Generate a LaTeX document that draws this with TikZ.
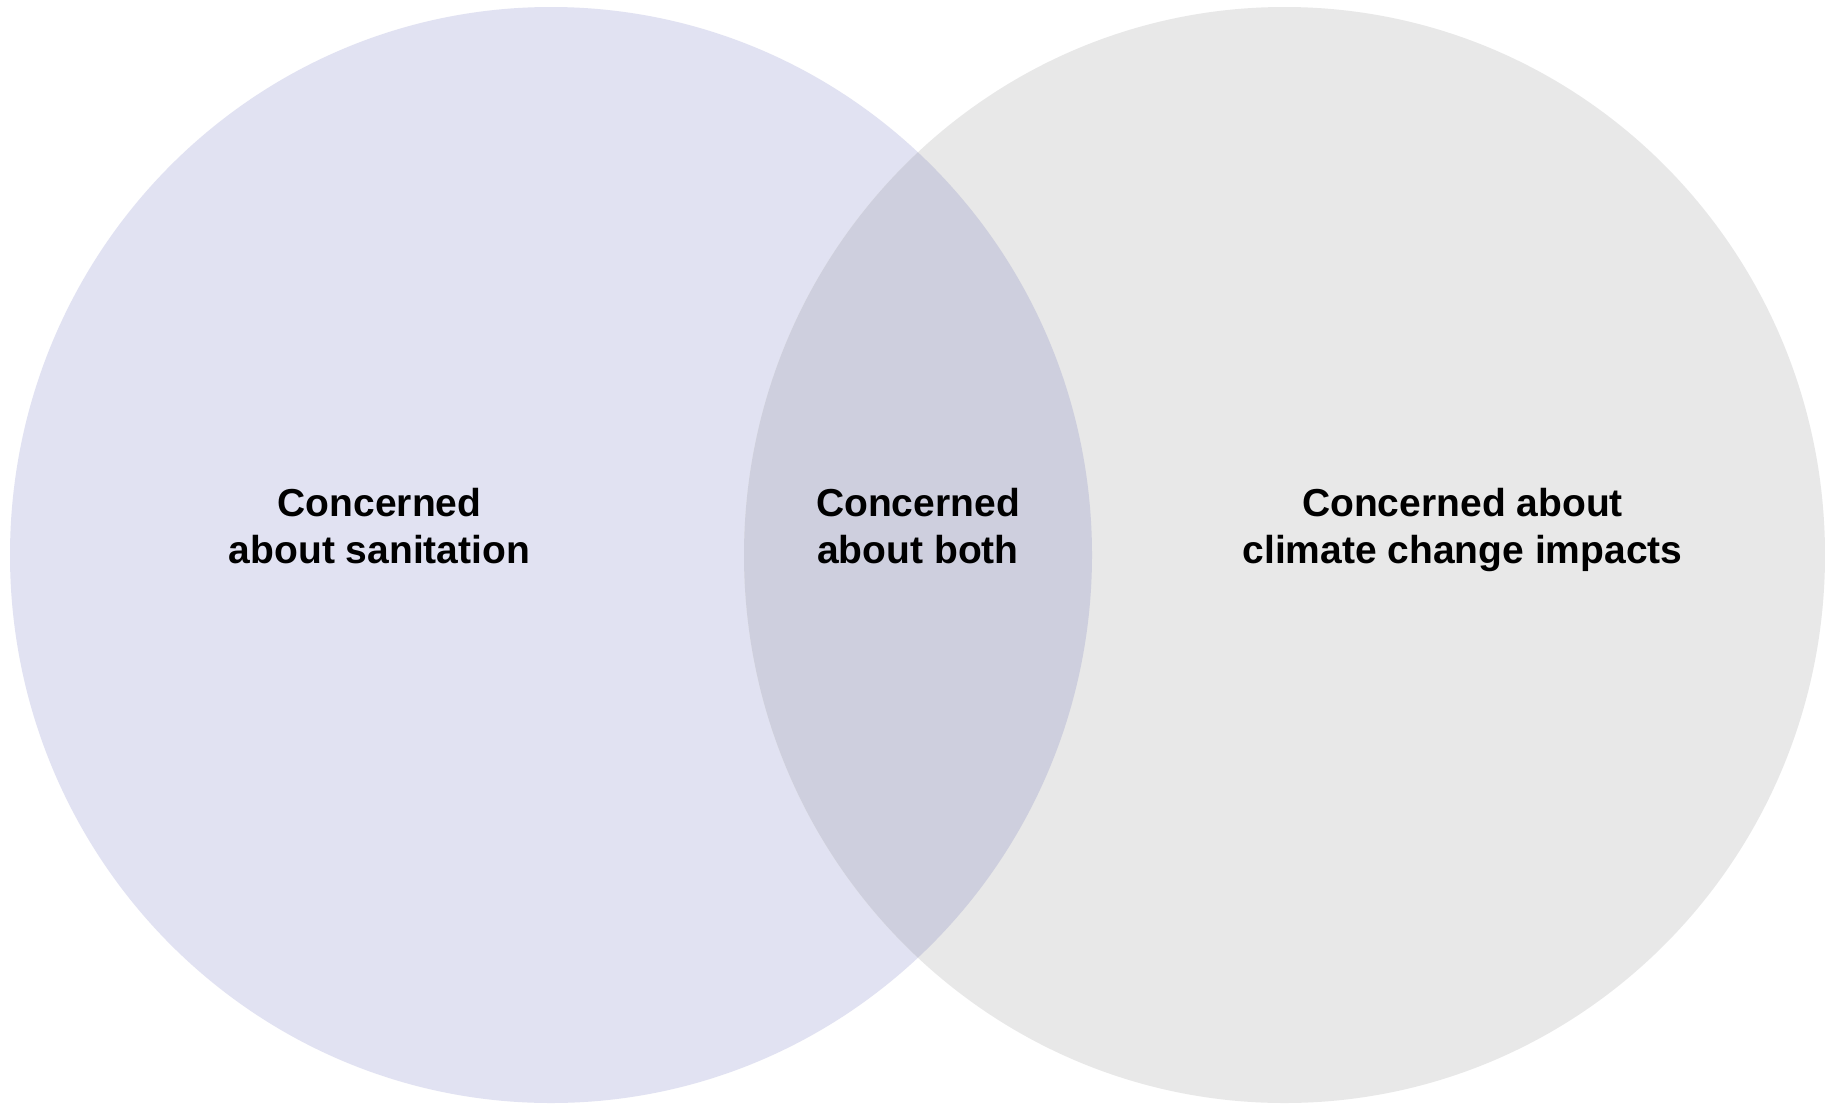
\documentclass[tikz,border=0pt]{standalone}
\usepackage{fontspec}
\setmainfont{Liberation Sans}
\definecolor{leftc}{HTML}{E1E2F2}
\definecolor{rightc}{HTML}{E8E8E8}
\definecolor{midc}{HTML}{CECFDE}
\tikzset{
  lbl/.style={align=center, inner sep=0pt, text depth=0pt, text=black,
    font=\fontsize{39pt}{47pt}\selectfont\bfseries}
}
\begin{document}
\begin{tikzpicture}[x=1pt,y=-1pt]
\useasboundingbox[fill=white] (0,0) rectangle (1825,1103);
\fill[leftc] (551,555) ellipse [x radius=541pt, y radius=548pt];
\fill[rightc] (1284.5,555) ellipse [x radius=540.5pt, y radius=548pt];
\begin{scope}
  \clip (551,555) ellipse [x radius=541pt, y radius=548pt];
  \fill[midc] (1284.5,555) ellipse [x radius=540.5pt, y radius=548pt];
\end{scope}
\node[lbl] (sanit) at (379.5,526) {Concerned\\about sanitation};
\node[lbl] (both) at (918,526) {Concerned\\about both};
\node[lbl] (climate) at (1462.5,526) {Concerned about\\climate change impacts};
\end{tikzpicture}
\end{document}
